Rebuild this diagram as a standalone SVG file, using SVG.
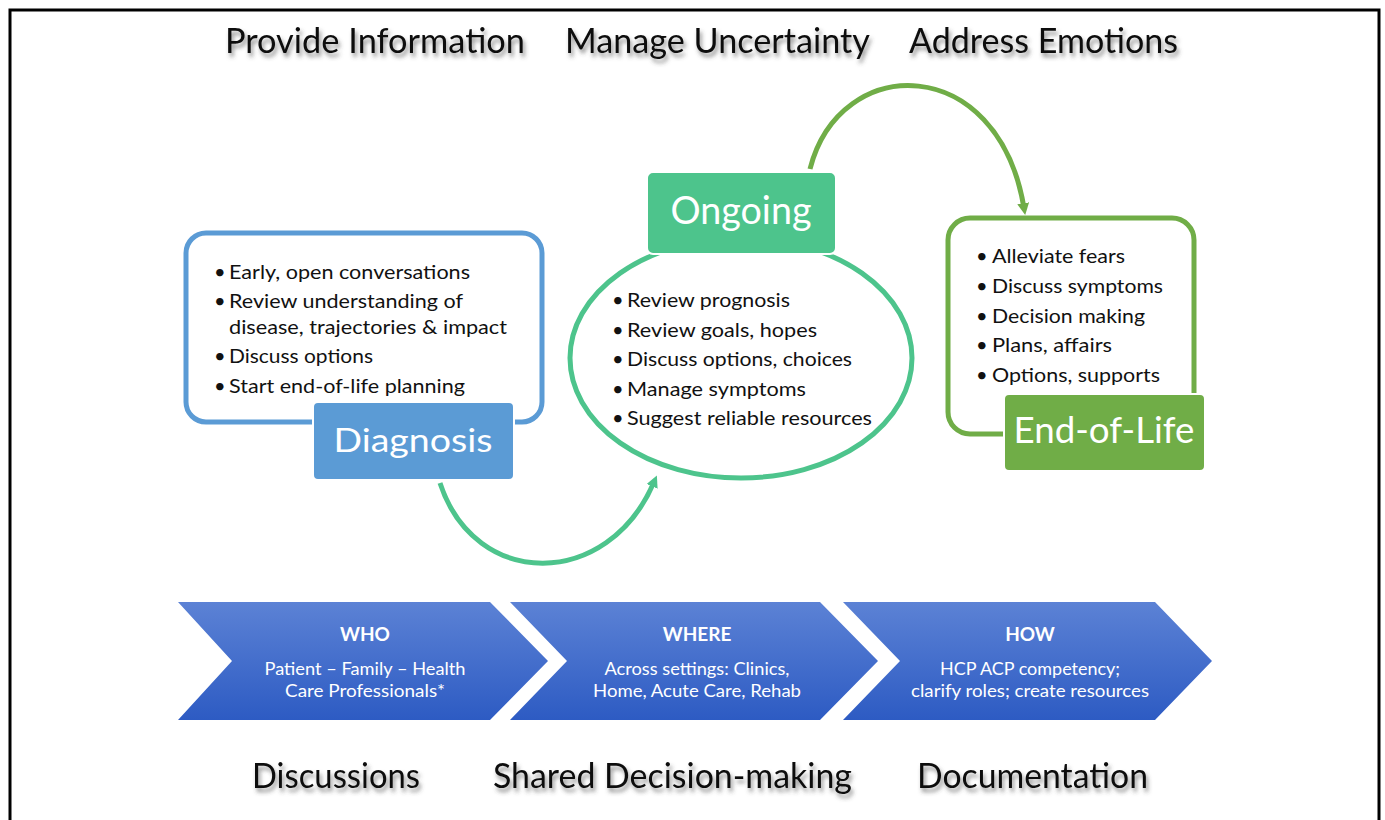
<svg xmlns="http://www.w3.org/2000/svg" width="1385" height="820" viewBox="0 0 1385 820">
  <style>
    .title { font-family: Lato, "Open Sans", "Liberation Sans", sans-serif; font-size: 34px; fill: #0a0a0a; filter: url(#shadow); }
    .bullet { font-family: Lato, "Open Sans", "Liberation Sans", sans-serif; font-size: 20px; fill: #111; }
    .label { font-family: Lato, "Open Sans", "Liberation Sans", sans-serif; fill: #fff; text-anchor: middle; }
    .chev-head { font-family: Lato, "Open Sans", "Liberation Sans", sans-serif; font-size: 19px; font-weight: bold; fill: #fff; text-anchor: middle; }
    .chev-body { font-family: Lato, "Open Sans", "Liberation Sans", sans-serif; font-size: 17px; fill: #fff; text-anchor: middle; }
    .chevron { fill: url(#chevFill); }
  </style>
  <defs>
    <filter id="shadow" x="-10%" y="-30%" width="120%" height="180%">
      <feDropShadow dx="2" dy="4" stdDeviation="2.2" flood-color="#444" flood-opacity="0.6"/>
    </filter>
    <linearGradient id="chevFill" x1="0" y1="0" x2="0" y2="1">
      <stop offset="0" stop-color="#5C82D5"/>
      <stop offset="1" stop-color="#2D5BC3"/>
    </linearGradient>
    <marker id="arrowTeal" viewBox="0 0 10 10" refX="4" refY="5" markerWidth="12" markerHeight="12" markerUnits="userSpaceOnUse" orient="auto">
      <path d="M0,0 L10,5 L0,10 z" fill="#4DC48C"/>
    </marker>
    <marker id="arrowGreen" viewBox="0 0 10 10" refX="4" refY="5" markerWidth="12" markerHeight="12" markerUnits="userSpaceOnUse" orient="auto">
      <path d="M0,0 L10,5 L0,10 z" fill="#70AD47"/>
    </marker>
  </defs>

  <rect x="0" y="0" width="1385" height="820" fill="#fff"/>
  <!-- outer frame (open at the bottom edge) -->
  <rect x="10" y="10" width="1369" height="830" fill="none" stroke="#000" stroke-width="3"/>

  <!-- headings -->
  <g id="headings-top">
    <text class="title" x="225" y="53" textLength="300" lengthAdjust="spacingAndGlyphs">Provide Information</text>
    <text class="title" x="565" y="53" textLength="305" lengthAdjust="spacingAndGlyphs">Manage Uncertainty</text>
    <text class="title" x="909" y="53" textLength="269" lengthAdjust="spacingAndGlyphs">Address Emotions</text>
  </g>

  <!-- connectors -->
  <g id="connectors" fill="none" stroke-width="5">
    <path d="M440,483 C475,590 608,590 654,482" stroke="#4DC48C" marker-end="url(#arrowTeal)"/>
    <path d="M810,169 C840,52 998,52 1024,208" stroke="#70AD47" marker-end="url(#arrowGreen)"/>
  </g>

  <!-- Diagnosis -->
  <g id="diagnosis">
    <rect x="186" y="233" width="356" height="189" rx="20" fill="#fff" stroke="#5B9BD5" stroke-width="5"/>
    <text class="bullet" x="214" y="279">•</text>
    <text class="bullet" x="229" y="279" textLength="241" lengthAdjust="spacingAndGlyphs">Early, open conversations</text>
    <text class="bullet" x="214" y="308">•</text>
    <text class="bullet" x="229" y="308" textLength="234" lengthAdjust="spacingAndGlyphs">Review understanding of</text>
    <text class="bullet" x="229" y="334" textLength="278" lengthAdjust="spacingAndGlyphs">disease, trajectories &amp; impact</text>
    <text class="bullet" x="214" y="363">•</text>
    <text class="bullet" x="229" y="363" textLength="144" lengthAdjust="spacingAndGlyphs">Discuss options</text>
    <text class="bullet" x="214" y="393">•</text>
    <text class="bullet" x="229" y="393" textLength="236" lengthAdjust="spacingAndGlyphs">Start end-of-life planning</text>
    <rect x="313" y="402" width="201" height="78" rx="5" fill="#5B9BD5" stroke="#fff" stroke-width="2"/>
    <text class="label" x="413" y="452" font-size="33" textLength="159" lengthAdjust="spacingAndGlyphs">Diagnosis</text>
  </g>

  <!-- Ongoing -->
  <g id="ongoing">
    <ellipse cx="741" cy="358" rx="171" ry="120" fill="#fff" stroke="#4DC48C" stroke-width="5"/>
    <text class="bullet" x="612" y="307">•</text>
    <text class="bullet" x="627" y="307" textLength="163" lengthAdjust="spacingAndGlyphs">Review prognosis</text>
    <text class="bullet" x="612" y="337">•</text>
    <text class="bullet" x="627" y="337" textLength="190" lengthAdjust="spacingAndGlyphs">Review goals, hopes</text>
    <text class="bullet" x="612" y="366">•</text>
    <text class="bullet" x="627" y="366" textLength="225" lengthAdjust="spacingAndGlyphs">Discuss options, choices</text>
    <text class="bullet" x="612" y="396">•</text>
    <text class="bullet" x="627" y="396" textLength="179" lengthAdjust="spacingAndGlyphs">Manage symptoms</text>
    <text class="bullet" x="612" y="425">•</text>
    <text class="bullet" x="627" y="425" textLength="245" lengthAdjust="spacingAndGlyphs">Suggest reliable resources</text>
    <rect x="647" y="172" width="189" height="82" rx="6" fill="#4DC48C" stroke="#fff" stroke-width="2"/>
    <text class="label" x="741" y="224" font-size="38" textLength="141" lengthAdjust="spacingAndGlyphs">Ongoing</text>
  </g>

  <!-- End-of-Life -->
  <g id="end-of-life">
    <rect x="948" y="218" width="246" height="216" rx="22" fill="#fff" stroke="#70AD47" stroke-width="5"/>
    <text class="bullet" x="976" y="263">•</text>
    <text class="bullet" x="992" y="263" textLength="133" lengthAdjust="spacingAndGlyphs">Alleviate fears</text>
    <text class="bullet" x="976" y="293">•</text>
    <text class="bullet" x="992" y="293" textLength="171" lengthAdjust="spacingAndGlyphs">Discuss symptoms</text>
    <text class="bullet" x="976" y="323">•</text>
    <text class="bullet" x="992" y="323" textLength="153" lengthAdjust="spacingAndGlyphs">Decision making</text>
    <text class="bullet" x="976" y="352">•</text>
    <text class="bullet" x="992" y="352" textLength="120" lengthAdjust="spacingAndGlyphs">Plans, affairs</text>
    <text class="bullet" x="976" y="382">•</text>
    <text class="bullet" x="992" y="382" textLength="168" lengthAdjust="spacingAndGlyphs">Options, supports</text>
    <rect x="1004" y="394" width="201" height="77" rx="5" fill="#70AD47" stroke="#fff" stroke-width="2"/>
    <text class="label" x="1104" y="443" font-size="37" textLength="181" lengthAdjust="spacingAndGlyphs">End-of-Life</text>
  </g>

  <!-- process chevrons -->
  <g id="who">
    <polygon class="chevron" points="178,602 490,602 548,661 490,720 178,720 232,661"/>
    <text class="chev-head" x="365" y="641">WHO</text>
    <text class="chev-body" x="365" y="675" textLength="201" lengthAdjust="spacingAndGlyphs">Patient – Family – Health</text>
    <text class="chev-body" x="365" y="697" textLength="160" lengthAdjust="spacingAndGlyphs">Care Professionals*</text>
  </g>
  <g id="where">
    <polygon class="chevron" points="510,602 820,602 878,661 820,720 510,720 567,661"/>
    <text class="chev-head" x="697" y="641">WHERE</text>
    <text class="chev-body" x="697" y="675" textLength="185" lengthAdjust="spacingAndGlyphs">Across settings: Clinics,</text>
    <text class="chev-body" x="697" y="697" textLength="208" lengthAdjust="spacingAndGlyphs">Home, Acute Care, Rehab</text>
  </g>
  <g id="how">
    <polygon class="chevron" points="843,602 1155,602 1212,661 1155,720 843,720 900,661"/>
    <text class="chev-head" x="1030" y="641">HOW</text>
    <text class="chev-body" x="1030" y="675" textLength="180" lengthAdjust="spacingAndGlyphs">HCP ACP competency;</text>
    <text class="chev-body" x="1030" y="697" textLength="238" lengthAdjust="spacingAndGlyphs">clarify roles; create resources</text>
  </g>

  <g id="headings-bottom">
    <text class="title" x="252" y="788" textLength="168" lengthAdjust="spacingAndGlyphs">Discussions</text>
    <text class="title" x="493" y="788" textLength="359" lengthAdjust="spacingAndGlyphs">Shared Decision-making</text>
    <text class="title" x="917" y="788" textLength="231" lengthAdjust="spacingAndGlyphs">Documentation</text>
  </g>
</svg>
